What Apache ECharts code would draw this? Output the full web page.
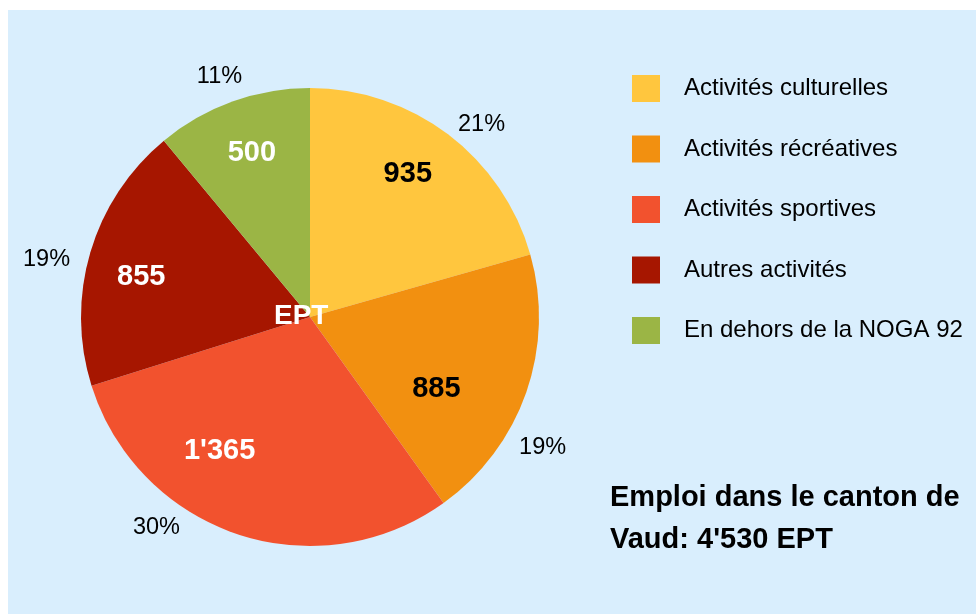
<!DOCTYPE html>
<html>
<head>
<meta charset="utf-8">
<script src="https://cdn.jsdelivr.net/npm/echarts@6/dist/echarts.min.js"></script>
<style>
  html, body { margin: 0; padding: 0; background: #ffffff; }
  #bg { position: absolute; left: 8px; top: 10px; right: 0; bottom: 0; background: #d9eefd; }
  #chart { position: absolute; left: 0; top: 0; width: 976px; height: 614px; }
</style>
</head>
<body>
<div id="bg"></div>
<div id="chart"></div>
<script>
// categories and values (EPT)
var categories = ["Activités culturelles", "Activités récréatives", "Activités sportives", "Autres activités", "En dehors de la NOGA 92"];
var values = [935, 885, 1365, 855, 500];
var totalText = "Emploi dans le canton de\nVaud: 4'530 EPT";

var colors = ["#ffc63e", "#f29010", "#f2522e", "#a61600", "#9bb545"];
var valueLabelColors = ["#000000", "#000000", "#ffffff", "#ffffff", "#ffffff"];
// small nudges so labels sit where the original placed them
var valueLabelNudge = [[-2, -11], [-30, 17], [-38, -23], [-10, 7], [-2, -8]];
var pctLabelNudge = [[16, 13], [-11, 46], [-72, -34], [-16, 16], [-3, 2]];

(function () {
  "use strict";
  var chart = echarts.init(document.getElementById("chart"));

  function fmt(v) {
    return String(v).replace(/\B(?=(\d{3})+(?!\d))/g, "'");
  }

  var cx = 310, cy = 317, r = 229;
  var font = "Liberation Sans, Arial, sans-serif";

  var mainData = categories.map(function (name, i) {
    return { name: name, value: values[i], itemStyle: { color: colors[i] } };
  });
  var valueData = categories.map(function (name, i) {
    return {
      name: name, value: values[i],
      label: { color: valueLabelColors[i], offset: valueLabelNudge[i] }
    };
  });
  var pctData = categories.map(function (name, i) {
    return { name: name, value: values[i], label: { offset: pctLabelNudge[i] } };
  });

  var option = {
    animation: false,
    textStyle: { fontFamily: font },
    title: [
      {
        text: "EPT",
        left: 269, top: 297,
        textStyle: { color: "#ffffff", fontSize: 28, fontWeight: "bold", fontFamily: font }
      },
      {
        text: totalText,
        left: 605, top: 472,
        textStyle: { color: "#000000", fontSize: 29, fontWeight: "bold", lineHeight: 42, fontFamily: font }
      }
    ],
    legend: {
      orient: "vertical",
      left: 627, top: 70,
      icon: "rect",
      itemWidth: 28, itemHeight: 27,
      itemGap: 33.5,
      data: categories,
      textStyle: { fontSize: 24, color: "#000000", padding: [0, 0, 0, 19], fontFamily: font }
    },
    series: [
      {
        name: "EPT",
        type: "pie",
        center: [cx, cy],
        radius: [0, r],
        startAngle: 90,
        silent: true,
        label: { show: false },
        labelLine: { show: false },
        data: mainData
      },
      {
        // inner value labels
        type: "pie",
        center: [cx, cy],
        radius: [r * 0.42, r],
        startAngle: 90,
        silent: true,
        avoidLabelOverlap: false,
        itemStyle: { color: "rgba(0,0,0,0)" },
        label: {
          show: true,
          position: "inside",
          fontSize: 29,
          fontWeight: "bold",
          fontFamily: font,
          formatter: function (p) { return fmt(p.value); }
        },
        labelLine: { show: false },
        data: valueData
      },
      {
        // outer percentage labels
        type: "pie",
        center: [cx, cy],
        radius: [r + 6, r + 46],
        startAngle: 90,
        silent: true,
        avoidLabelOverlap: false,
        percentPrecision: 0,
        itemStyle: { color: "rgba(0,0,0,0)" },
        label: {
          show: true,
          position: "inside",
          fontSize: 23.5,
          color: "#000000",
          fontFamily: font,
          formatter: "{d}%"
        },
        labelLine: { show: false },
        data: pctData
      }
    ]
  };

  chart.setOption(option);
})();
</script>
</body>
</html>
